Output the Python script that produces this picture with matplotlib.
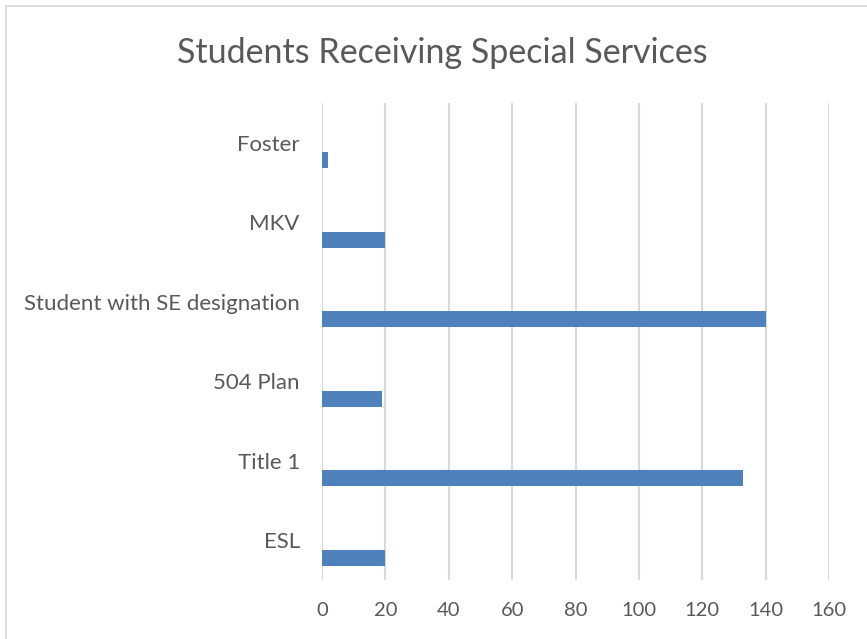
import numpy as np
import matplotlib
matplotlib.use('Agg')
import matplotlib.pyplot as plt
from matplotlib.patches import Rectangle

# data, bottom to top as drawn
categories = ['ESL', 'Title 1', '504 Plan', 'Student with SE designation', 'MKV', 'Foster']
values = [20, 133, 19, 140, 20, 2]
x_ticks = [0, 20, 40, 60, 80, 100, 120, 140, 160]

plt.rcParams['font.family'] = ['Lato', 'DejaVu Sans']
text_color = '#595959'
bar_color = '#4f81bd'

fig = plt.figure(figsize=(8.67, 6.39), dpi=100)
ax = fig.add_axes([0.3714, 0.0923, 0.9562 - 0.3714, 0.8388 - 0.0923])

# chart border (Excel chart area)
fig.patches.append(Rectangle((6 / 867, -0.1), 1.2, 1 - 6 / 639 + 0.1,
                             transform=fig.transFigure, fill=False,
                             edgecolor='#d9d9d9', linewidth=1.2))

y = np.arange(len(categories))
ax.barh(y - 0.22, values, height=0.2, color=bar_color, zorder=3)

ax.set_xlim(0, 160)
ax.set_ylim(-0.5, len(categories) - 0.5)
ax.set_xticks(x_ticks)
ax.set_yticks(y)
ax.set_yticklabels(categories)
ax.tick_params(axis='x', length=0, pad=16, labelsize=14.5, labelcolor=text_color)
ax.tick_params(axis='y', length=0, pad=16, labelsize=16, labelcolor=text_color)
ax.grid(axis='x', color='#d9d9d9', linewidth=1.5, zorder=0)
for s in ax.spines.values():
    s.set_visible(False)

fig.text(442 / 867, 1 - 53 / 639, 'Students Receiving Special Services',
         ha='center', va='center', fontsize=24.5, color=text_color)

fig.savefig('out.png', dpi=100)
